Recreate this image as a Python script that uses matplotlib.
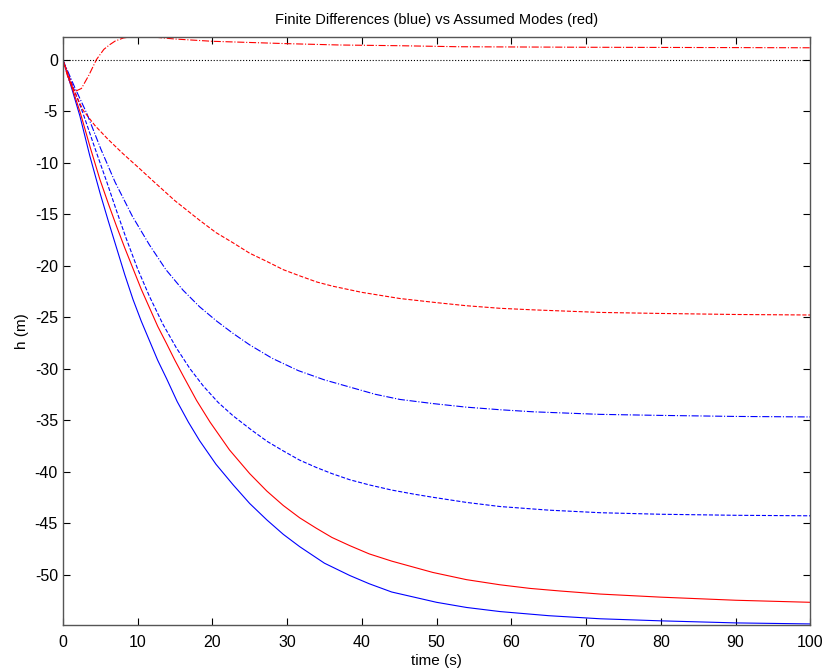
import matplotlib
matplotlib.use('Agg')
import matplotlib.pyplot as plt

plt.rcParams['font.family'] = ['Liberation Sans', 'DejaVu Sans']
plt.rcParams['axes.unicode_minus'] = False

# finite differences (blue)
t_fd_solid = [0, 1.2, 2.3, 3.6, 5.0, 6.1, 7.2, 8.3, 9.4, 10.5, 11.6, 12.7, 13.9, 15.3, 16.8, 18.3, 20.5, 22.8, 25, 27.3,
              29.5, 31.7, 35, 38.4, 41, 44, 47, 50, 54, 58.5, 65, 71.9, 80, 90, 100]
h_fd_solid = [0, -2.8, -5.5, -9.3, -13.0, -15.7, -18.3, -20.9, -23.3, -25.4, -27.3, -29.2, -31.0, -33.2, -35.2, -37.0, -39.3, -41.3, -43.1, -44.7,
              -46.1, -47.3, -48.9, -50.1, -50.9, -51.7, -52.2, -52.7, -53.2, -53.6, -54.0, -54.3, -54.5, -54.7, -54.8]

t_fd_dash = [0, 1.3, 2.7, 4.3, 5.85, 7.2, 8.5, 10, 11.6, 13.4, 15.2, 17, 18.8, 20.8, 22.8, 25.3, 27.4, 29.5, 31.7, 33.9,
             36, 38.4, 41, 44, 47, 49.5, 54, 58.5, 65, 71.9, 80, 90, 100]
h_fd_dash = [0, -2.5, -5.2, -8.6, -11.8, -14.7, -17.4, -20.3, -23.0, -25.7, -28.0, -30.0, -31.7, -33.3, -34.6, -36.0, -37.1, -38.0, -38.9, -39.6,
             -40.2, -40.8, -41.3, -41.8, -42.2, -42.5, -43.0, -43.4, -43.75, -44.0, -44.15, -44.25, -44.3]

t_fd_dashdot = [0, 1.6, 3.2, 5.1, 7.0, 9.3, 11.6, 13.8, 16.1, 18.3, 20.6, 22.8, 25.0, 28, 31.5, 35, 38.4, 41.8, 45.1, 49.5,
                54, 58.5, 62.9, 71.9, 80, 90, 100]
h_fd_dashdot = [0, -2.7, -5.2, -8.7, -11.9, -15.2, -18.0, -20.4, -22.4, -24.0, -25.4, -26.6, -27.7, -29.0, -30.2, -31.1, -31.8, -32.5, -33.0, -33.4,
                -33.75, -34.0, -34.2, -34.45, -34.55, -34.65, -34.7]

# assumed modes (red)
t_am_solid = [0, 1.2, 2.4, 3.7, 4.95, 6.1, 7.2, 8.3, 9.4, 10.5, 11.6, 12.7, 13.9, 15, 16.1, 17.9, 19.7, 22.3, 25, 27.3,
              29.5, 31.7, 33.9, 36, 38.4, 41, 44, 47, 49.5, 54, 58.5, 62.5, 66.5, 71.9, 80, 90, 100]
h_am_solid = [0, -2.6, -5.3, -8.6, -11.6, -14.0, -16.2, -18.3, -20.3, -22.3, -24.1, -25.9, -27.6, -29.2, -30.7, -33.1, -35.2, -37.9, -40.2, -41.9,
              -43.3, -44.5, -45.5, -46.4, -47.2, -48.0, -48.7, -49.3, -49.8, -50.5, -51.0, -51.35, -51.6, -51.9, -52.2, -52.5, -52.7]

t_am_dash = [0, 1.5, 2.7, 4.3, 6, 8, 10.3, 12.1, 15, 18.3, 20.5, 22.8, 25, 27.3, 29.5, 31.7, 34, 36.1, 40, 45.1,
             50, 54, 58.5, 62.9, 71.9, 80, 90, 100]
h_am_dash = [0, -3, -4.9, -6.4, -7.7, -9.1, -10.6, -11.8, -13.7, -15.6, -16.8, -17.8, -18.8, -19.6, -20.4, -21.0, -21.6, -22.0, -22.6, -23.2,
             -23.6, -23.9, -24.15, -24.3, -24.55, -24.65, -24.75, -24.8]

t_am_dashdot = [0, 0.8, 1.6, 2.5, 3.5, 4.5, 5.5, 6.3, 7, 8.1, 9, 12, 15, 20, 30, 37, 45, 53, 70, 100]
h_am_dashdot = [0, -2.0, -3.1, -2.8, -1.5, 0, 1.0, 1.46, 1.8, 2.1, 2.2, 2.2, 2.0, 1.78, 1.55, 1.42, 1.35, 1.25, 1.2, 1.15]

fig = plt.figure(figsize=(8.26, 6.72), dpi=100)
ax = fig.add_axes([0.076, 0.070, 0.905, 0.875])

lw = 0.8
ax.plot([0, 100], [0, 0], color='k', linestyle=':', linewidth=lw)
ax.plot(t_fd_solid, h_fd_solid, color='b', linestyle='-', linewidth=lw)
ax.plot(t_fd_dash, h_fd_dash, color='b', linestyle='--', linewidth=lw)
ax.plot(t_fd_dashdot, h_fd_dashdot, color='b', linestyle='-.', linewidth=lw)
ax.plot(t_am_solid, h_am_solid, color='r', linestyle='-', linewidth=lw)
ax.plot(t_am_dash, h_am_dash, color='r', linestyle='--', linewidth=lw)
ax.plot(t_am_dashdot, h_am_dashdot, color='r', linestyle='-.', linewidth=lw)

ax.set_xlim(0, 100)
ax.set_ylim(-54.9, 2.2)
ax.set_xticks(range(0, 101, 10))
ax.set_yticks(range(-50, 1, 5))
ax.tick_params(direction='in', length=5, top=True, right=True, labelsize=11.5, colors='k')
ax.tick_params(axis='x', pad=7)
for s in ax.spines.values():
    s.set_color('#555555')
    s.set_linewidth(1.0)

ax.set_xlabel('time (s)', fontsize=11, labelpad=3)
ax.set_ylabel('h (m)', fontsize=11, labelpad=4)
ax.set_title('Finite Differences (blue) vs Assumed Modes (red)', fontsize=10.5, pad=9)

fig.savefig('out.png', dpi=100)
